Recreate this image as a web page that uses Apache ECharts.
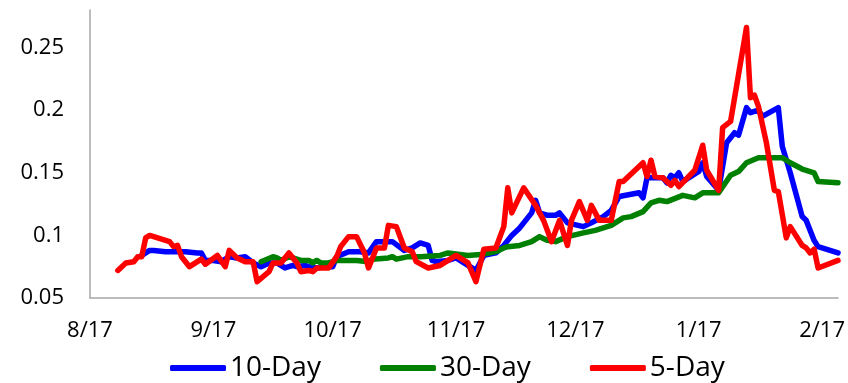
<!DOCTYPE html>
<html>
<head>
<meta charset="utf-8">
<script src="https://cdn.jsdelivr.net/npm/echarts@6/dist/echarts.min.js"></script>
<style>
  html, body { margin: 0; padding: 0; background: #fff; }
  #chart { width: 848px; height: 383px; }
</style>
</head>
<body>
<div id="chart"></div>
<script>
// Month ticks along the date axis (m/d)
const tickLabels = ['8/17', '9/17', '10/17', '11/17', '12/17', '1/17', '2/17'];
const axisEnd = '2/21';

// 10-day volatility
const tenDayDates = ['8/30','9/1','9/2','9/5','9/10','9/13','9/14','9/15','9/17','9/19','9/21','9/23','9/25','9/27','9/29','10/1','10/3','10/5','10/7','10/8','10/10','10/11','10/13','10/15','10/17','10/18','10/21','10/24','10/26','10/28','10/31','11/1','11/4','11/6','11/8','11/10','11/11','11/12','11/15','11/17','11/20','11/22','11/24','11/27','11/29','12/1','12/3','12/6','12/7','12/8','12/10','12/12','12/13','12/15','12/19','12/21','12/24','12/26','12/28','1/2','1/3','1/4','1/8','1/9','1/10','1/11','1/12','1/13','1/17','1/18','1/19','1/22','1/24','1/26','1/27','1/29','1/30','2/1','2/2','2/6','2/7','2/9','2/12','2/13','2/15','2/16','2/21'];
const tenDay = [0.084,0.088,0.088,0.087,0.087,0.086,0.086,0.080,0.080,0.079,0.083,0.082,0.083,0.078,0.075,0.078,0.078,0.074,0.076,0.075,0.076,0.075,0.074,0.075,0.075,0.083,0.087,0.087,0.086,0.095,0.095,0.095,0.088,0.090,0.094,0.092,0.080,0.079,0.080,0.082,0.076,0.072,0.084,0.086,0.092,0.100,0.106,0.118,0.128,0.118,0.116,0.116,0.118,0.110,0.107,0.110,0.115,0.120,0.131,0.134,0.130,0.146,0.146,0.142,0.148,0.146,0.150,0.143,0.151,0.158,0.147,0.136,0.174,0.182,0.180,0.202,0.198,0.200,0.195,0.202,0.171,0.150,0.115,0.112,0.096,0.091,0.086];

// 30-day volatility
const thirtyDayDates = ['9/29','10/2','10/3','10/4','10/6','10/9','10/11','10/12','10/13','10/14','10/16','10/18','10/21','10/23','10/26','10/27','10/31','11/1','11/2','11/5','11/8','11/13','11/15','11/20','11/24','11/27','11/29','11/30','12/3','12/6','12/8','12/10','12/12','12/15','12/19','12/22','12/26','12/29','12/31','1/3','1/5','1/7','1/9','1/13','1/16','1/18','1/22','1/25','1/27','1/29','2/1','2/3','2/7','2/9','2/12','2/15','2/16','2/21'];
const thirtyDay = [0.079,0.083,0.082,0.080,0.083,0.080,0.080,0.078,0.080,0.078,0.078,0.080,0.080,0.080,0.079,0.081,0.082,0.083,0.081,0.083,0.083,0.084,0.086,0.084,0.085,0.087,0.090,0.091,0.092,0.095,0.099,0.096,0.095,0.099,0.102,0.104,0.108,0.114,0.115,0.119,0.126,0.128,0.127,0.132,0.130,0.134,0.134,0.148,0.151,0.158,0.162,0.162,0.162,0.158,0.153,0.150,0.143,0.142];

// 5-day volatility
const fiveDayDates = ['8/24','8/26','8/28','8/29','8/30','8/31','9/1','9/6','9/7','9/8','9/9','9/11','9/14','9/15','9/18','9/20','9/21','9/23','9/25','9/27','9/28','10/1','10/2','10/4','10/6','10/8','10/9','10/11','10/12','10/13','10/16','10/18','10/19','10/21','10/23','10/25','10/26','10/28','10/30','10/31','11/2','11/4','11/6','11/7','11/10','11/13','11/15','11/17','11/20','11/22','11/24','11/27','11/29','11/30','12/1','12/4','12/7','12/9','12/11','12/13','12/15','12/16','12/18','12/20','12/21','12/23','12/26','12/28','12/29','1/3','1/4','1/5','1/6','1/8','1/10','1/11','1/12','1/16','1/18','1/19','1/22','1/23','1/25','1/29','1/30','1/31','2/1','2/3','2/5','2/6','2/8','2/9','2/12','2/13','2/14','2/15','2/16','2/21'];
const fiveDay = [0.072,0.078,0.079,0.083,0.083,0.098,0.100,0.095,0.091,0.092,0.083,0.075,0.081,0.077,0.084,0.075,0.088,0.082,0.079,0.079,0.063,0.071,0.078,0.078,0.086,0.078,0.071,0.072,0.071,0.074,0.074,0.083,0.091,0.099,0.099,0.086,0.074,0.090,0.090,0.108,0.107,0.090,0.087,0.079,0.074,0.076,0.080,0.084,0.078,0.063,0.089,0.090,0.107,0.138,0.118,0.138,0.124,0.112,0.095,0.112,0.092,0.112,0.127,0.112,0.124,0.112,0.112,0.143,0.143,0.158,0.147,0.160,0.147,0.146,0.140,0.144,0.139,0.152,0.172,0.152,0.136,0.186,0.191,0.266,0.210,0.212,0.203,0.174,0.136,0.135,0.098,0.107,0.092,0.090,0.086,0.089,0.074,0.080];

// m/d strings run from August through February; convert to days since the first tick
function dayOffset(md) {
  const [m, d] = md.split('/').map(Number);
  const year = m >= 8 ? 2016 : 2017;
  return (Date.UTC(year, m - 1, d) - Date.UTC(2016, 7, 17)) / 86400000;
}
function pairs(dates, values) {
  return dates.map((md, i) => [dayOffset(md), values[i]]);
}

const tickDays = tickLabels.map(dayOffset);
const labelFont = { fontFamily: 'Open Sans', fontSize: 22, color: '#000' };

const lineSeries = (name, color, dates, values) => ({
  name,
  type: 'line',
  data: pairs(dates, values),
  showSymbol: false,
  symbol: 'none',
  animation: false,
  lineStyle: { color, width: 5.5, cap: 'round', join: 'round' },
  itemStyle: { color }
});

const chart = echarts.init(document.getElementById('chart'), null, { renderer: 'canvas' });
chart.setOption({
  animation: false,
  backgroundColor: '#fff',
  grid: { left: 90, right: 10, top: 10, bottom: 85, containLabel: false },
  xAxis: {
    type: 'value',
    min: 0,
    max: dayOffset(axisEnd),
    axisLine: { show: true, lineStyle: { color: '#a6a6a6', width: 1.5 } },
    axisTick: { show: false },
    splitLine: { show: false },
    axisLabel: Object.assign({
      margin: 22,
      customValues: tickDays,
      formatter: v => tickLabels[tickDays.indexOf(v)] || ''
    }, labelFont)
  },
  yAxis: {
    type: 'value',
    min: 0.05,
    max: 0.28,
    interval: 0.05,
    axisLine: { show: true, lineStyle: { color: '#a6a6a6', width: 1.5 } },
    axisTick: { show: false },
    splitLine: { show: false },
    axisLabel: Object.assign({
      margin: 26,
      showMaxLabel: false,
      formatter: v => String(parseFloat(v.toFixed(2)))
    }, labelFont)
  },
  legend: {
    left: 165,
    top: 349,
    itemWidth: 56,
    itemHeight: 6,
    itemGap: 59,
    icon: 'roundRect',
    textStyle: { fontFamily: 'Open Sans', fontSize: 28, color: '#000', padding: [0, 0, 0, -1] },
    data: ['10-Day', '30-Day', '5-Day']
  },
  series: [
    lineSeries('10-Day', '#0000ff', tenDayDates, tenDay),
    lineSeries('30-Day', '#008000', thirtyDayDates, thirtyDay),
    lineSeries('5-Day', '#ff0000', fiveDayDates, fiveDay)
  ]
});
</script>
</body>
</html>
